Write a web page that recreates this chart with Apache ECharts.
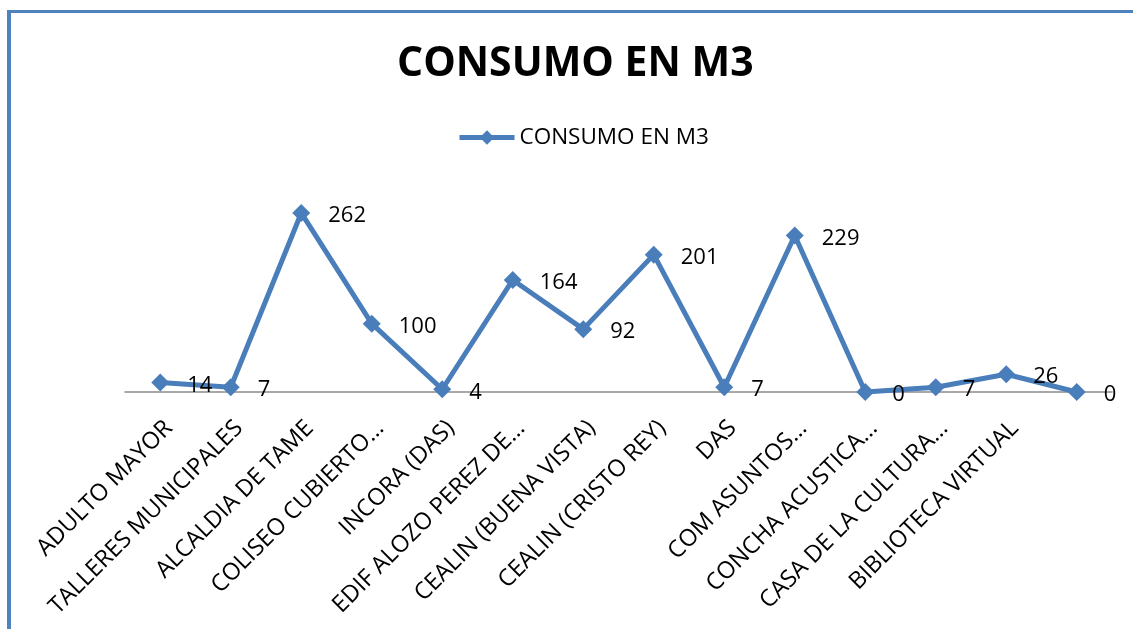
<!DOCTYPE html>
<html>
<head>
<meta charset="utf-8">
<script src="https://cdn.jsdelivr.net/npm/echarts@6/dist/echarts.min.js"></script>
<style>
html,body{margin:0;padding:0;background:#fff;}
#chart{position:absolute;left:0;top:0;width:1133px;height:629px;}
#frame{position:absolute;left:7px;top:10px;width:1140px;height:640px;border-top:3px solid #4f81bd;border-left:4px solid #4f81bd;pointer-events:none;}
</style>
</head>
<body>
<div id="chart"></div>
<div id="frame"></div>
<script>
const categories = ['ADULTO MAYOR','TALLERES MUNICIPALES','ALCALDIA DE TAME','COLISEO CUBIERTO…','INCORA (DAS)','EDIF ALOZO PEREZ DE…','CEALIN (BUENA VISTA)','CEALIN (CRISTO REY)','DAS','COM ASUNTOS…','CONCHA ACUSTICA…','CASA DE LA CULTURA…','BIBLIOTECA VIRTUAL',''];
const consumo = [14,7,262,100,4,164,92,201,7,229,0,7,26,0];
const seriesName = 'CONSUMO EN M3';
const titleText = 'CONSUMO EN M3';

const FONT = 'Open Sans';
const chart = echarts.init(document.getElementById('chart'));
chart.setOption({
  animation: false,
  backgroundColor: '#ffffff',
  title: {
    text: titleText,
    left: 392,
    top: 39,
    textStyle: {fontFamily: FONT, fontWeight: 'bold', fontSize: 41, color: '#000'}
  },
  legend: {
    left: 452,
    top: 121,
    itemWidth: 55,
    itemHeight: 18,
    itemGap: 10,
    textStyle: {fontFamily: FONT, fontSize: 22.5, color: '#000'},
    lineStyle: {width: 5},
    data: [seriesName]
  },
  grid: {left: 125, right: 21, top: 187, bottom: 237},
  xAxis: {
    type: 'category',
    data: categories,
    boundaryGap: true,
    axisLine: {lineStyle: {color: '#8c8c8c', width: 1.5}},
    axisTick: {show: false},
    axisLabel: {
      interval: 0,
      rotate: 45,
      margin: 24,
      verticalAlign: 'top',
      fontFamily: FONT,
      fontSize: 23.5,
      color: '#000'
    }
  },
  yAxis: {
    type: 'value',
    min: 0,
    max: 300,
    show: false,
    splitLine: {show: false}
  },
  series: [{
    name: seriesName,
    type: 'line',
    data: consumo,
    symbol: 'diamond',
    symbolSize: 18,
    lineStyle: {color: '#4a7ebb', width: 5},
    itemStyle: {color: '#4a7ebb'},
    label: {
      show: true,
      position: 'right',
      distance: 18,
      offset: [0, 3],
      fontFamily: FONT,
      fontSize: 22,
      color: '#000'
    }
  }]
});
</script>
</body>
</html>
